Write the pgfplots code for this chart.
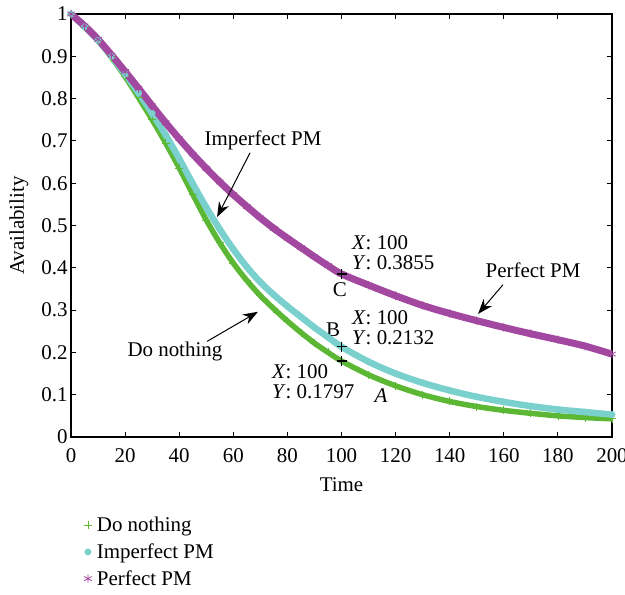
\documentclass[border=0pt]{standalone}
\usepackage{fontspec}
\setmainfont{Liberation Serif}
\usepackage{pgfplots}
\usepackage{pgfplotstable}
\pgfplotsset{compat=1.18}
\usetikzlibrary{arrows.meta}
\definecolor{cgreen}{RGB}{92,184,52}
\definecolor{ccyan}{RGB}{122,208,204}
\definecolor{cpurple}{RGB}{162,72,160}

\pgfplotstableread{
t A
0 1.000
5 0.970
10 0.937
15 0.897
20 0.852
25 0.802
30 0.750
35 0.695
40 0.636
45 0.574
50 0.513
55 0.459
60 0.411
65 0.370
70 0.334
75 0.303
80 0.274
85 0.247
90 0.222
95 0.200
100 0.1797
110 0.147
120 0.121
130 0.100
140 0.084
150 0.072
160 0.063
170 0.056
180 0.050
190 0.046
200 0.043
}\greendata

\pgfplotstableread{
t A
0 1.000
5 0.970
10 0.938
15 0.900
20 0.858
25 0.813
30 0.765
35 0.714
40 0.658
45 0.599
50 0.543
55 0.491
60 0.444
65 0.402
70 0.366
75 0.336
80 0.309
85 0.284
90 0.259
95 0.236
100 0.2132
110 0.178
120 0.150
130 0.128
140 0.110
150 0.095
160 0.083
170 0.073
180 0.065
190 0.059
200 0.053
}\cyandata

\pgfplotstableread{
t A
0 1.000
5 0.972
10 0.940
15 0.903
20 0.864
25 0.824
30 0.783
35 0.743
40 0.705
45 0.669
50 0.635
55 0.603
60 0.573
65 0.545
70 0.518
75 0.493
80 0.470
85 0.448
90 0.426
95 0.405
100 0.3855
110 0.359
120 0.334
130 0.311
140 0.292
150 0.275
160 0.259
170 0.244
180 0.230
190 0.215
200 0.196
}\purpledata

\begin{document}
\begin{tikzpicture}
\begin{axis}[
  name=ax,
  scale only axis,
  width=541bp, height=423bp,
  xmin=0, xmax=200, ymin=0, ymax=1,
  xtick={0,20,...,200},
  ytick={0,0.1,0.2,0.3,0.4,0.5,0.6,0.7,0.8,0.9,1},
  yticklabels={0,0.1,0.2,0.3,0.4,0.5,0.6,0.7,0.8,0.9,1},
  tick align=inside,
  major tick length=5bp,
  minor tick num=0,
  axis line style={line width=1.2bp},
  every tick/.style={black, line width=1bp},
  font=\fontsize{21}{25}\selectfont,
  /pgf/number format/assume math mode=true,
  xticklabel style={yshift=-8bp},
  xlabel={Time},
  ylabel={Availability},
  xlabel style={yshift=-8bp},
  ylabel style={yshift=6bp},
  legend style={at={(0.018,-0.18)}, anchor=north west, draw=none, fill=none,
    font=\fontsize{21}{25}\selectfont, row sep=6.5bp, column sep=3bp},
  legend cell align=left,
]
\addplot[cgreen, line width=5.5bp, smooth, forget plot] table {\greendata};
\addplot[cgreen, only marks, mark=+, mark size=4bp, line width=0.8bp] table {\greendata};
\addlegendentry{Do nothing}
\addplot[ccyan, line width=6.5bp, smooth, forget plot] table {\cyandata};
\addplot[ccyan, only marks, mark=*, mark size=3.2bp] table {\cyandata};
\addlegendentry{Imperfect PM}
\addplot[cpurple, line width=7bp, smooth, forget plot] table {\purpledata};
\addplot[cpurple, only marks, mark=asterisk, mark size=4.3bp, line width=0.8bp] table {\purpledata};
\addlegendentry{Perfect PM}

\addplot[black, only marks, mark=+, mark size=5bp, line width=1.2bp, forget plot] coordinates {(100,0.3855) (100,0.2132) (100,0.1797)};

\node[inner sep=0] at (axis cs:71,0.702) {Imperfect PM};
\draw[-{Stealth[length=15bp,width=11bp]}, line width=1bp] (axis cs:66.2,0.672) -- (axis cs:54,0.52);
\node[inner sep=0] at (axis cs:38.4,0.201) {Do nothing};
\draw[-{Stealth[length=15bp,width=11bp]}, line width=1bp] (axis cs:50.3,0.226) -- (axis cs:69.1,0.296);
\node[inner sep=0] at (axis cs:170.8,0.395) {Perfect PM};
\draw[-{Stealth[length=15bp,width=11bp]}, line width=1bp] (axis cs:159.7,0.360) -- (axis cs:150.5,0.291);

\node[inner sep=0, anchor=west] at (axis cs:103.9,0.459) {\textit{X}: 100};
\node[inner sep=0, anchor=west] at (axis cs:103.9,0.411) {\textit{Y}: 0.3855};
\node[inner sep=0] at (axis cs:99.4,0.348) {C};
\node[inner sep=0, anchor=west] at (axis cs:103.9,0.281) {\textit{X}: 100};
\node[inner sep=0, anchor=west] at (axis cs:103.9,0.234) {\textit{Y}: 0.2132};
\node[inner sep=0] at (axis cs:96.9,0.253) {B};
\node[inner sep=0, anchor=west] at (axis cs:74.3,0.154) {\textit{X}: 100};
\node[inner sep=0, anchor=west] at (axis cs:74.3,0.106) {\textit{Y}: 0.1797};
\node[inner sep=0] at (axis cs:114.6,0.099) {\textit{A}};
\end{axis}
\pgfresetboundingbox
\path[use as bounding box] ([xshift=-71bp,yshift=-158bp]ax.south west) rectangle ([xshift=13bp,yshift=14bp]ax.north east);
\end{tikzpicture}
\end{document}
